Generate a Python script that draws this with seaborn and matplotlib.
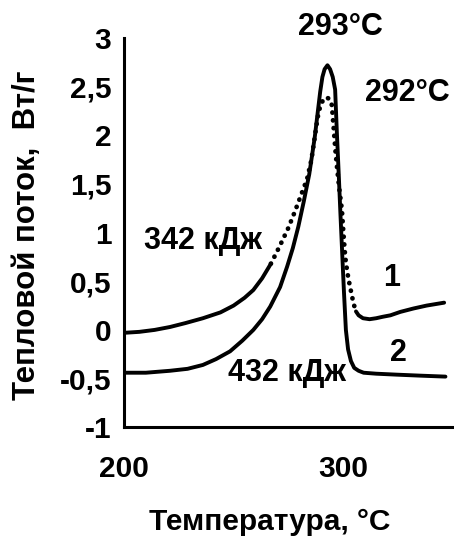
import numpy as np
import pandas as pd
import matplotlib
matplotlib.use("Agg")
import matplotlib.pyplot as plt
import seaborn as sns

# curve 1 (upper, 292 °C peak)
temp_1 = [200, 207, 214, 221, 228, 236, 244, 250, 255, 259, 263, 267, 271, 275,
          278, 281, 283.5, 285.5, 287, 288.3, 289.6, 291, 292.5, 293.8, 294.8,
          295.6, 296.4, 297.2, 298.2, 299.4, 300.1, 300.9, 301.8, 302.6, 303.5,
          304.7, 305.8, 307, 309, 312, 315, 318, 321.5, 326, 332, 338, 346]
flow_1 = [-0.03, -0.02, 0.0, 0.03, 0.07, 0.12, 0.18, 0.25, 0.33, 0.41, 0.53, 0.68, 0.86, 1.05,
          1.22, 1.40, 1.55, 1.75, 1.98, 2.18, 2.31, 2.37, 2.39, 2.37, 2.31,
          2.08, 1.85, 1.66, 1.45, 1.23, 0.99, 0.75, 0.60, 0.50, 0.40,
          0.27, 0.19, 0.15, 0.12, 0.11, 0.12, 0.135, 0.15, 0.185, 0.22, 0.25, 0.28]

# curve 2 (lower, 293 °C peak)
temp_2 = [200, 210, 221, 229, 236, 242, 248.4, 254, 259, 263, 266.7, 271.2, 274.4,
          277, 279.5, 282, 284.5, 287, 289.5, 290.5, 291.5, 292.8, 294, 295.2,
          296.3, 297.1, 298, 298.7, 299.5, 300.3, 301.2, 302.2, 303.5, 305, 307,
          309.3, 315, 324.5, 335, 346.6]
flow_2 = [-0.44, -0.44, -0.42, -0.40, -0.36, -0.30, -0.22, -0.11, 0.0, 0.11, 0.24, 0.44, 0.65,
          0.84, 1.06, 1.32, 1.60, 1.98, 2.45, 2.60, 2.68, 2.72, 2.68, 2.60,
          2.47, 2.02, 1.57, 1.20, 0.80, 0.40, 0.0, -0.20, -0.32, -0.39, -0.42,
          -0.44, -0.45, -0.46, -0.47, -0.48]

y_ticks = [-1, -0.5, 0, 0.5, 1, 1.5, 2, 2.5, 3]
x_ticks = [200, 300]

sns.set_style("white")
plt.rcParams['font.family'] = ['Liberation Sans', 'DejaVu Sans']
plt.rcParams['font.weight'] = 'bold'
plt.rcParams['text.color'] = 'black'
plt.rcParams['axes.labelcolor'] = 'black'

fig = plt.figure(figsize=(4.54, 5.47), dpi=100)
ax = fig.add_axes([0.273, 0.219, 0.727, 0.7115])

df1 = pd.DataFrame({'T': temp_1, 'q': flow_1})
df2 = pd.DataFrame({'T': temp_2, 'q': flow_2})

# curve 1: solid at the baselines, dotted around the peak
solid_a = df1[df1['T'] <= 267]
dotted = df1[(df1['T'] >= 267) & (df1['T'] <= 305.8)]
solid_b = df1[df1['T'] >= 305.8]

for part in [solid_a, solid_b]:
    sns.lineplot(data=part, x='T', y='q', color='black', lw=2.8, ax=ax,
                 estimator=None, sort=False)
    ax.lines[-1].set_solid_capstyle('round')
    ax.lines[-1].set_solid_joinstyle('round')
sns.lineplot(data=dotted, x='T', y='q', color='black', lw=3.4, ax=ax,
             estimator=None, sort=False)
dot_line = ax.lines[-1]
dot_line.set_linestyle((0, (0.05, 1.6)))
dot_line.set_dash_capstyle('round')

sns.lineplot(data=df2, x='T', y='q', color='black', lw=2.8, ax=ax,
             estimator=None, sort=False)
ax.lines[-1].set_solid_capstyle('round')
ax.lines[-1].set_solid_joinstyle('round')

ax.set_xlim(200, 350.5)
ax.set_ylim(-1, 3)
ax.set_xticks(x_ticks)
ax.set_xticklabels([str(t) for t in x_ticks])
ax.set_yticks(y_ticks)
ax.set_yticklabels([f"{v:g}".replace('.', ',') for v in y_ticks])

sns.despine(ax=ax)
for side in ['left', 'bottom']:
    ax.spines[side].set_linewidth(2.2)
    ax.spines[side].set_color('black')
ax.tick_params(direction='out', length=6, width=2, labelsize=21.5, colors='black')
ax.tick_params(axis='x', pad=14)
ax.tick_params(axis='y', pad=3)

ax.set_xlabel("Температура, °C", fontsize=21.5, fontweight='bold', color='black')
ax.set_ylabel("Тепловой поток,  Вт/г", fontsize=22.5, fontweight='bold', color='black')
ax.xaxis.label.set_va('center')
ax.yaxis.label.set_va('center')
ax.xaxis.set_label_coords(0.442, -0.244)
ax.yaxis.set_label_coords(-0.294, 0.494)

txt = dict(fontsize=22, fontweight='bold', ha='center', va='center',
           color='black', clip_on=False)
ax.text(298.6, 3.11, "293°C", **txt)
ax.text(329.2, 2.43, "292°C", **txt)
ax.text(235.8, 0.91, "342 кДж", **txt)
ax.text(274.3, -0.44, "432 кДж", **txt)
ax.text(322.2, 0.53, "1", **txt)
ax.text(325.0, -0.24, "2", **txt)

fig.savefig("out.png", dpi=100)
